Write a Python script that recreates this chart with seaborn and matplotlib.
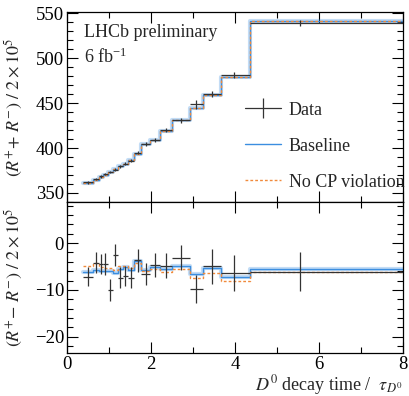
import numpy as np
import pandas as pd
import seaborn as sns
import matplotlib.pyplot as plt
from matplotlib.ticker import MultipleLocator
from matplotlib.lines import Line2D

# decay-time binning (units of D0 lifetime) and mean time of each bin
bin_edges = [0.373, 0.627, 0.76, 0.87, 0.97, 1.09, 1.21, 1.33, 1.46, 1.61,
             1.762, 1.976, 2.214, 2.507, 2.929, 3.231, 3.667, 4.357, 8.0]
t_mean = [0.50, 0.70, 0.82, 0.92, 1.03, 1.15, 1.27, 1.39, 1.53, 1.69,
          1.88, 2.10, 2.36, 2.71, 3.07, 3.45, 3.98, 5.55]

# (R+ + R-)/2 x 1e5
sum_data = [362, 365.5, 368.4, 371, 373.3, 375.9, 379.6, 382.6, 386, 395,
            404.8, 409.2, 419.6, 430.8, 448.9, 460, 481.4, 538.9]
sum_err = [1.5, 1.5, 1.5, 1.5, 1.6, 1.6, 1.7, 1.7, 1.8, 2.0,
           2.0, 2.2, 2.3, 2.5, 5.0, 3.5, 3.5, 3.5]
sum_base = [361, 364.5, 367.5, 370.5, 373.5, 376.5, 379.5, 382.5, 386.5, 393,
            404, 409, 419.5, 430.8, 445, 458.5, 478.8, 541.8]
sum_nocp = [361, 364.5, 367.5, 370.5, 373.5, 376.5, 379.5, 382.5, 386.5, 393,
            404, 409, 419.5, 430.8, 445, 458.5, 478.8, 541.8]

# (R+ - R-)/2 x 1e5
diff_data = [-7.15, -4.15, -4.44, -4.44, -10.0, -2.5, -7.36, -7.0, -7.36, -3.7,
             -6.65, -4.65, -4.8, -3.15, -9.8, -4.93, -6.43, -6.1]
diff_err = [2.0, 2.2, 2.2, 2.3, 2.3, 2.4, 2.3, 2.2, 2.25, 2.5,
            2.35, 2.5, 2.65, 2.7, 3.05, 3.75, 3.8, 4.2]
diff_base = [-6.2, -5.7, -5.9, -5.9, -6.0, -6.4, -5.6, -5.1, -5.7, -3.9,
             -5.7, -5.15, -5.6, -5.0, -6.6, -5.4, -7.15, -5.5]
diff_nocp = [-4.9, -4.3, -5.2, -5.3, -5.4, -5.8, -4.8, -5.0, -5.3, -4.2,
             -6.0, -5.5, -6.2, -5.5, -7.4, -6.4, -8.1, -6.2]

sns.set_theme(style="ticks")
plt.rcParams['font.family'] = ['Liberation Serif', 'DejaVu Serif']
plt.rcParams['mathtext.fontset'] = 'stix'

blue = '#3b8ee0'
orange = '#f08a3c'
black = '#333333'

fig = plt.figure(figsize=(4.10, 3.96), dpi=100)
ax1 = fig.add_axes([0.163, 0.490, 0.820, 0.480])
ax2 = fig.add_axes([0.163, 0.1086, 0.820, 0.3814])


def steps(vals):
    return pd.DataFrame({'t': bin_edges, 'v': list(vals) + [vals[-1]]})


def draw(ax, data, err, base, nocp):
    lo = np.array(t_mean) - np.array(bin_edges[:-1])
    hi = np.array(bin_edges[1:]) - np.array(t_mean)
    sns.lineplot(data=steps(base), x='t', y='v', ax=ax, drawstyle='steps-post',
                 estimator=None, sort=False, color=blue, lw=3.0, alpha=0.3)
    sns.lineplot(data=steps(base), x='t', y='v', ax=ax, drawstyle='steps-post',
                 estimator=None, sort=False, color=blue, lw=1.0)
    sns.lineplot(data=steps(nocp), x='t', y='v', ax=ax, drawstyle='steps-post',
                 estimator=None, sort=False, color=orange, lw=1.0, linestyle=(0, (2, 1.5)))
    ax.errorbar(t_mean, data, yerr=err, xerr=[lo, hi], fmt='none',
                ecolor=black, elinewidth=0.9, capsize=0)
    ax.set_xlim(0, 8)
    ax.xaxis.set_major_locator(MultipleLocator(2))
    ax.xaxis.set_minor_locator(MultipleLocator(1))
    ax.tick_params(which='both', direction='in', top=True, right=True,
                   labelsize=13.5, width=0.8, colors='black', pad=2)
    ax.tick_params(which='major', length=8)
    ax.tick_params(which='minor', length=4)
    for s in ax.spines.values():
        s.set_linewidth(0.9)
        s.set_color('black')


draw(ax1, sum_data, sum_err, sum_base, sum_nocp)
draw(ax2, diff_data, diff_err, diff_base, diff_nocp)

ax1.set_ylim(340, 551.5)
ax1.yaxis.set_major_locator(MultipleLocator(50))
ax1.yaxis.set_minor_locator(MultipleLocator(10))
ax1.set_xticklabels([])
ax1.set_xlabel('')
ax1.set_ylabel(r'$(R^{+}\!+\,R^{-})\ /\ 2\times10^{5}$', fontsize=13)
ax1.yaxis.set_label_coords(-0.125, 0.5)

ax2.set_ylim(-23.5, 8.8)
ax2.yaxis.set_major_locator(MultipleLocator(10))
ax2.yaxis.set_minor_locator(MultipleLocator(2))
ax2.set_ylabel(r'$(R^{+}\!-\,R^{-})\ /\ 2\times10^{5}$', fontsize=13)
ax2.yaxis.set_label_coords(-0.125, 0.5)
ax2.set_xlabel(r'$D^{0}$ decay time /  $\tau_{D^{0}}$', fontsize=13, loc='right')
ax2.xaxis.set_label_coords(1.0, -0.135)

ax1.text(0.05, 0.935, 'LHCb preliminary', transform=ax1.transAxes,
         fontsize=13, va='top', ha='left')
ax1.text(0.05, 0.815, r'6 fb$^{\mathregular{-1}}$', transform=ax1.transAxes,
         fontsize=13, va='top', ha='left')

h_data = Line2D([], [], color=black, lw=0.9, marker='|', markersize=14,
                markeredgewidth=0.9)
h_base = Line2D([], [], color=blue, lw=1.0)
h_nocp = Line2D([], [], color=orange, lw=1.0, linestyle=(0, (2, 1.5)))
ax1.legend([h_data, h_base, h_nocp], ['Data', 'Baseline', 'No CP violation'],
           loc='upper left', bbox_to_anchor=(0.502, 0.575), frameon=False,
           fontsize=13, handlelength=2.0, labelspacing=1.05, borderpad=0,
           handletextpad=0.45)

fig.savefig('out.png', dpi=100)
